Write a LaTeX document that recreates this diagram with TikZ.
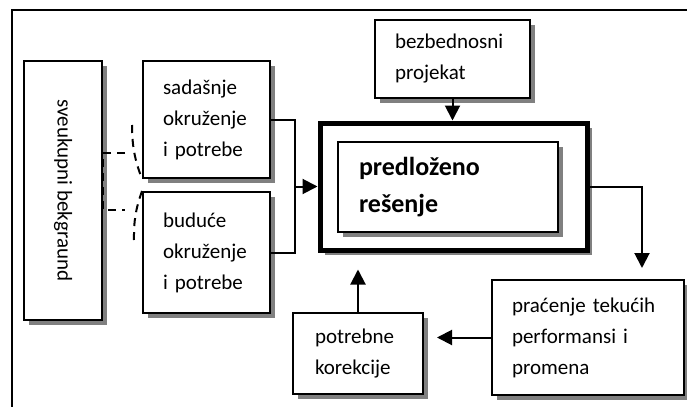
\documentclass[tikz,border=0pt]{standalone}
\usepackage{fontspec}
\setmainfont{Carlito}
\usepackage{tikz}
\usetikzlibrary{shapes,arrows.meta,positioning,shadows,calc}

\begin{document}
\begin{tikzpicture}[x=0.5pt, y=-0.5pt,
    box/.style={rectangle, draw, line width=1pt, fill=white, align=left, inner xsep=10pt, inner ysep=0pt,
      font=\fontsize{10.5}{15.5}\selectfont,
      drop shadow={shadow xshift=2.5pt, shadow yshift=-2.5pt, fill=black!50, opacity=1}},
    frame/.style={rectangle, draw, line width=2.5pt, fill=white, minimum width=133.5pt, minimum height=63.5pt,
      drop shadow={shadow xshift=2.5pt, shadow yshift=-2.5pt, fill=black!50, opacity=1}},
    link/.style={line width=1pt},
    arrow/.style={line width=1pt, -{Triangle[length=7.5pt, width=7.5pt]}},
    dashlink/.style={line width=1pt, dash pattern=on 4pt off 3pt}
  ]
    \clip (0,0) rectangle (687,407);
    \draw[line width=1.2pt] (12,430) -- (12,10) -- (710,10);

    % Boxes
    \node[box, minimum width=39pt, minimum height=129.5pt] (whole) at (63,190.5) {};
    \node[rotate=-90, font=\fontsize{10.5}{15.5}\selectfont] (whole-label) at (whole.center) {sveukupni bekgraund};

    \node[box, text width=43.5pt, minimum height=58.5pt] (present) at (206.5,119.5) {sada\v{s}nje\\okru\v{z}enje\\i potrebe};
    \node[box, text width=43.5pt, minimum height=60.5pt] (future) at (206.5,252.5) {budu\'{c}e\\okru\v{z}enje\\i potrebe\\[3pt]};

    \node[box, text width=57.5pt, minimum height=39pt] (security) at (452.5,59) {bezbednosni\\projekat};

    \node[frame] (solution) at (453.5,186.5) {};
    \node[box, drop shadow={opacity=0}, text width=89pt, inner xsep=10.5pt, minimum height=45pt,
      font=\fontsize{13}{18.5}\selectfont\bfseries] (proposal) at (448,187) {predlo\v{z}eno\\re\v{s}enje};

    \node[box, text width=76pt, minimum height=57.5pt] (monitoring) at (588,337.5) {pra\'{c}enje teku\'{c}ih\\performansi i\\promena\\[1pt]};
    \node[box, text width=43pt, inner xsep=11pt, minimum height=40.5pt] (corrections) at (358,353.5) {potrebne\\korekcije};

    % Dashed ties from the background box
    \coordinate (tap-top) at (125,153);
    \coordinate (tap-bot) at (125,210);
    \coordinate (kink-top) at (132,125);
    \coordinate (kink-bot) at (134,240);
    \draw[dashlink] (tap-top) -- (tap-top -| whole.east) -- (tap-bot -| whole.east) -- (tap-bot);
    \draw[dashlink] (kink-top) to[bend right=10] (present.south west);
    \draw[dashlink] (future.north west) to[bend right=10] (kink-bot);

    % Arrows
    \coordinate (merge) at (295,186.5);
    \coordinate (drop) at (642,268);
    \draw[link] (present.east) -| (merge) |- (future.east);
    \draw[arrow] (merge) -- (solution.west);
    \draw[arrow] (security.south) -- (security.south |- solution.north);
    \draw[arrow] (solution.east) -| (drop);
    \draw[arrow, shorten >=6.5pt] (monitoring.west) -- (monitoring.west -| corrections.east);
    \draw[arrow, shorten >=8.5pt] (corrections.north) -- (corrections.north |- solution.south);
  \end{tikzpicture}
\end{document}
